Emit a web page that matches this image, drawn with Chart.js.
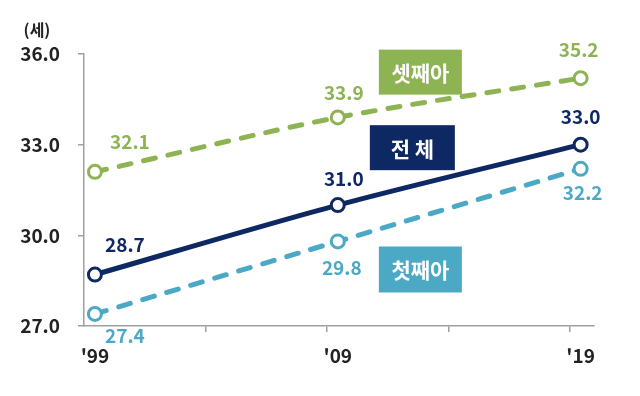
<!DOCTYPE html>
<html>
<head>
<meta charset="utf-8">
<script src="https://cdn.jsdelivr.net/npm/chart.js@4.4.1/dist/chart.umd.min.js"></script>
<style>
  html, body { margin: 0; padding: 0; background: #ffffff; }
  #wrap { width: 640px; height: 396px; position: relative; }
</style>
</head>
<body>
<div id="wrap"><canvas id="c" width="640" height="396"></canvas></div>
<script>
// ---- data ----
const years = [1999, 2009, 2019];
const xLabels = ["'99", "'09", "'19"];
const thirdChild = [32.1, 33.9, 35.2];   // 셋째아
const total = [28.7, 31.0, 33.0];        // 전체
const firstChild = [27.4, 29.8, 32.2];   // 첫째아
const yTicks = [27, 30, 33, 36];
const seriesNames = ['셋째아', '전 체', '첫째아'];
const unitLabel = '(세)';

// ---- styles ----
const GREEN = '#8db352';
const NAVY = '#0e2863';
const TEAL = '#4ba9c6';
const FONT = "'Noto Sans CJK KR', 'Noto Sans', sans-serif";
const markYears = [2003.55, 2008.55, 2013.55, 2018.55];

const mk = (data, color, dashed) => ({
  data: years.map((y, i) => ({ x: y, y: data[i] })),
  borderColor: color,
  backgroundColor: '#ffffff',
  borderWidth: 5,
  borderDash: dashed ? [12, 13] : [],
  borderCapStyle: dashed ? 'round' : 'butt',
  tension: 0.3,
  pointRadius: 6.5,
  pointBorderWidth: 3,
  pointBackgroundColor: '#ffffff',
  pointBorderColor: color,
  fill: false
});

// label offsets per dataset/point (dx, dy in px)
const labelOffsets = [
  [[35, -30], [6, -25], [-2, -28]],
  [[30, -30], [6, -26], [0, -28]],
  [[30, 22], [4, 26], [2, 24]]
];
const seriesColors = [GREEN, NAVY, TEAL];

// boxes anchored in data coordinates: [xCenter, yCenter], size in px
const boxes = [
  { text: seriesNames[0], color: GREEN, x: 2012.4, y: 35.4, w: 83, h: 45 },
  { text: seriesNames[1], color: NAVY, x: 2012.07, y: 32.9, w: 85, h: 45 },
  { text: seriesNames[2], color: TEAL, x: 2012.4, y: 28.87, w: 83, h: 46 }
];

const overlay = {
  id: 'overlay',
  afterDatasetsDraw(chart) {
    const ctx = chart.ctx;
    const xs = chart.scales.x, ys = chart.scales.y;
    ctx.save();
    // value labels
    ctx.font = "bold 19px " + FONT;
    ctx.textAlign = 'center';
    ctx.textBaseline = 'middle';
    chart.data.datasets.forEach((ds, di) => {
      const meta = chart.getDatasetMeta(di);
      meta.data.forEach((pt, i) => {
        const off = labelOffsets[di][i];
        ctx.fillStyle = seriesColors[di];
        ctx.fillText(ds.data[i].y.toFixed(1), pt.x + off[0], pt.y + off[1]);
      });
    });
    // boxes
    boxes.forEach(b => {
      const cx = xs.getPixelForValue(b.x), cy = ys.getPixelForValue(b.y);
      ctx.fillStyle = b.color;
      ctx.fillRect(cx - b.w / 2, cy - b.h / 2, b.w, b.h);
      ctx.fillStyle = '#ffffff';
      ctx.font = "bold 21px " + FONT;
      ctx.fillText(b.text, cx, cy + 1);
    });
    // unit label
    ctx.fillStyle = '#222222';
    ctx.font = "bold 16px " + FONT;
    ctx.fillText(unitLabel, 37, 30);
    ctx.restore();
  }
};

new Chart(document.getElementById('c'), {
  type: 'line',
  data: {
    datasets: [mk(thirdChild, GREEN, true), mk(total, NAVY, false), mk(firstChild, TEAL, true)]
  },
  options: {
    responsive: false,
    animation: false,
    devicePixelRatio: 1,
    layout: { padding: { top: 54, right: 46, left: 0, bottom: 0 } },
    plugins: { legend: { display: false }, tooltip: { enabled: false } },
    scales: {
      x: {
        type: 'linear',
        min: 1998.55,
        max: 2019.55,
        afterBuildTicks: (s) => {
          s.ticks = [...years, ...markYears].sort((a, b) => a - b).map(v => ({ value: v }));
        },
        afterFit: (s) => { s.height = 70; },
        ticks: {
          autoSkip: false,
          maxRotation: 0,
          padding: 12,
          color: '#222222',
          font: { family: FONT, size: 19, weight: 'bold' },
          callback: (v) => {
            const i = years.indexOf(v);
            return i >= 0 ? xLabels[i] : '';
          }
        },
        grid: {
          drawOnChartArea: false,
          tickLength: 6,
          lineWidth: 1.5,
          color: (c) => (c.tick && markYears.includes(c.tick.value)) ? '#a0a0a0' : 'rgba(0,0,0,0)'
        },
        border: { color: '#a0a0a0', width: 1.5 }
      },
      y: {
        min: 27,
        max: 36,
        afterBuildTicks: (s) => { s.ticks = yTicks.map(v => ({ value: v })); },
        afterFit: (s) => { s.width = 84; },
        ticks: {
          padding: 18,
          color: '#222222',
          font: { family: FONT, size: 19, weight: 'bold' },
          callback: (v) => Number(v).toFixed(1)
        },
        grid: { drawOnChartArea: false, tickLength: 6, lineWidth: 1.5, color: '#a0a0a0' },
        border: { color: '#a0a0a0', width: 1.5 }
      }
    }
  },
  plugins: [overlay]
});
</script>
</body>
</html>
